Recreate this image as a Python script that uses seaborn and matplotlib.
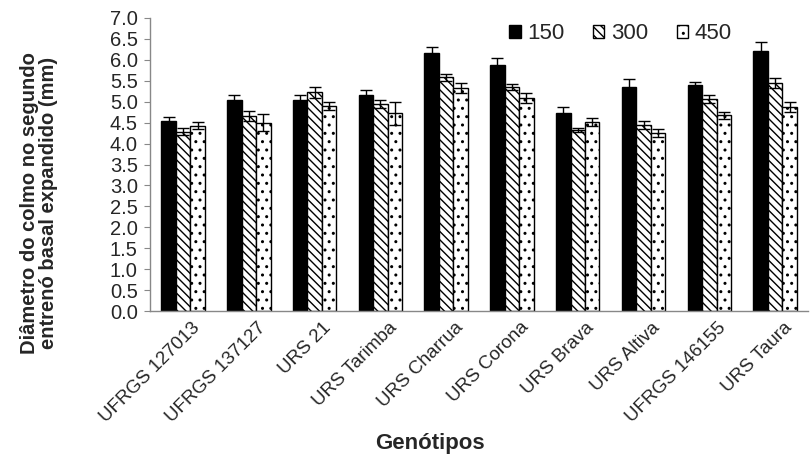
import numpy as np
import pandas as pd
import seaborn as sns
import matplotlib.pyplot as plt
import matplotlib.transforms as mtransforms

genotipos = ['UFRGS 127013', 'UFRGS 137127', 'URS 21', 'URS Tarimba', 'URS Charrua',
             'URS Corona', 'URS Brava', 'URS Altiva', 'UFRGS 146155', 'URS Taura']
doses = ['150', '300', '450']

d150 = [4.53, 5.03, 5.05, 5.15, 6.15, 5.87, 4.73, 5.35, 5.40, 6.22]
d300 = [4.28, 4.65, 5.22, 4.95, 5.58, 5.35, 4.33, 4.45, 5.07, 5.45]
d450 = [4.43, 4.50, 4.90, 4.72, 5.33, 5.08, 4.52, 4.25, 4.67, 4.87]

e150 = [0.10, 0.12, 0.10, 0.12, 0.15, 0.18, 0.15, 0.20, 0.08, 0.20]
e300 = [0.08, 0.12, 0.13, 0.10, 0.08, 0.08, 0.05, 0.10, 0.10, 0.12]
e450 = [0.08, 0.20, 0.10, 0.28, 0.12, 0.12, 0.10, 0.10, 0.08, 0.12]

sns.set_style('white')
plt.rcParams['font.family'] = ['Liberation Sans', 'DejaVu Sans']
plt.rcParams['hatch.linewidth'] = 1.0

df = pd.DataFrame({
    'Genótipos': genotipos * 3,
    'dose': [d for d in doses for _ in genotipos],
    'valor': d150 + d300 + d450,
})
erros = [e150, e300, e450]

fig = plt.figure(figsize=(8.12, 4.57), dpi=100)
ax = fig.add_axes([0.185, 0.319, 0.81, 0.642])

sns.barplot(data=df, x='Genótipos', y='valor', hue='dose', hue_order=doses,
            palette=['black', 'white', 'white'], width=0.66, gap=0,
            edgecolor='black', linewidth=1.0, errorbar=None, ax=ax)

hatches = ['', '\\\\\\\\', '..']
for cont, h, err in zip(ax.containers, hatches, erros):
    xs = []
    ys = []
    for bar in cont:
        bar.set_hatch(h)
        xs.append(bar.get_x() + bar.get_width() / 2)
        ys.append(bar.get_height())
    ax.errorbar(xs, ys, yerr=err, fmt='none', ecolor='black', elinewidth=1.0,
                capsize=4, capthick=1.0)

ax.set_ylim(0, 7.0)
ax.set_yticks(np.arange(0, 7.01, 0.5))
ax.set_yticklabels([f'{v:.1f}' for v in np.arange(0, 7.01, 0.5)], fontsize=14.5)
ax.set_xlim(-0.5, 9.5)
ax.tick_params(axis='y', left=True, length=4, color='#888888', pad=5)
ax.tick_params(axis='x', bottom=False, labelsize=13.5, pad=2)
desloc = mtransforms.ScaledTranslation(8 / 100, 0, fig.dpi_scale_trans)
for lbl in ax.get_xticklabels():
    lbl.set_rotation(45)
    lbl.set_ha('right')
    lbl.set_rotation_mode('anchor')
    lbl.set_transform(lbl.get_transform() + desloc)

for s in ['top', 'right']:
    ax.spines[s].set_visible(False)
for s in ['left', 'bottom']:
    ax.spines[s].set_color('#888888')
    ax.spines[s].set_linewidth(1.0)

ax.set_ylabel('Diâmetro do colmo no segundo\nentrenó basal expandido (mm)',
              fontsize=14.5, fontweight='bold', linespacing=1.0)
ax.yaxis.set_label_coords(-0.14, 0.37)
ax.set_xlabel('Genótipos', fontsize=16, fontweight='bold')
ax.xaxis.set_label_coords(0.425, -0.415)

leg = ax.legend(loc='upper right', bbox_to_anchor=(0.915, 1.05), ncol=3,
                frameon=False, fontsize=16, handlelength=0.5, handleheight=0.5,
                handletextpad=0.3, columnspacing=1.3, title=None)
for hnd, h in zip(leg.legend_handles, hatches):
    hnd.set_hatch(h)
    hnd.set_edgecolor('black')

fig.savefig('out.png', dpi=100)
